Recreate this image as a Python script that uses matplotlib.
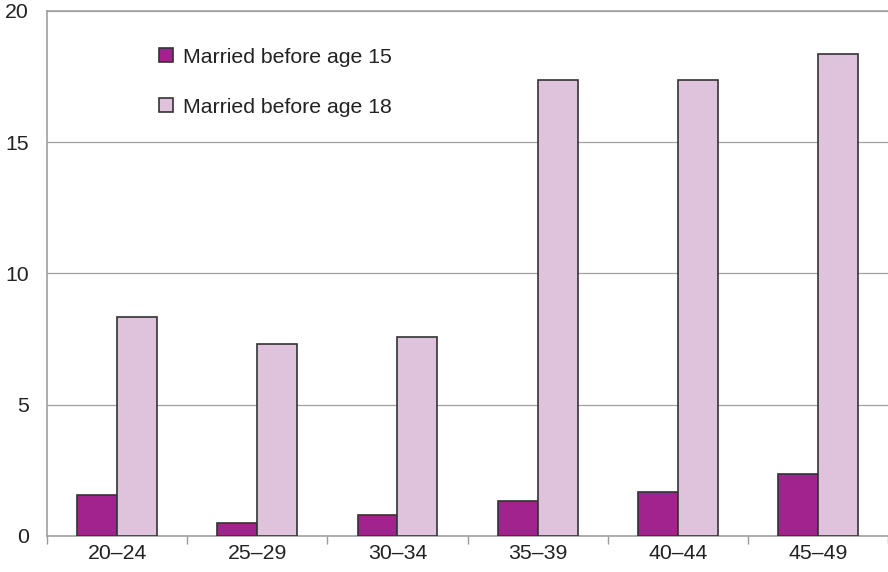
import numpy as np
import matplotlib
matplotlib.use("Agg")
import matplotlib.pyplot as plt
from matplotlib.ticker import FixedLocator

plt.rcParams['font.family'] = ['Liberation Sans', 'DejaVu Sans']

age_groups = ['20\u201324', '25\u201329', '30\u201334', '35\u201339', '40\u201344', '45\u201349']
before_15 = [1.56, 0.5, 0.8, 1.33, 1.68, 2.36]
before_18 = [8.34, 7.31, 7.58, 17.37, 17.37, 18.36]

fig = plt.figure(figsize=(8.88, 5.72), dpi=100)
ax = fig.add_axes([0.053, 0.063, 0.947, 0.918])

x = np.arange(len(age_groups))
w = 0.285
ax.bar(x - w / 2, before_15, w, color='#A2238D', edgecolor='#333333', linewidth=1.2,
       label='Married before age 15', zorder=3)
ax.bar(x + w / 2, before_18, w, color='#DFC2DC', edgecolor='#333333', linewidth=1.2,
       label='Married before age 18', zorder=3)

ax.set_xlim(-0.5, len(age_groups) - 0.5)
ax.set_ylim(0, 20)
ax.set_yticks([0, 5, 10, 15, 20])
ax.yaxis.grid(True, color='#a0a0a0', linewidth=0.9, zorder=0)
ax.set_xticks(x)
ax.set_xticklabels(age_groups)
ax.xaxis.set_minor_locator(FixedLocator(np.arange(-0.5, len(age_groups) - 0.4, 1)))
ax.tick_params(axis='x', which='major', length=0, pad=6, labelsize=15.3, labelcolor='#222222')
ax.tick_params(axis='x', which='minor', length=6, width=1, color='#999999', direction='out')
ax.tick_params(axis='y', length=0, pad=13, labelsize=15.3, labelcolor='#222222')

for side in ['left', 'top', 'bottom']:
    ax.spines[side].set_color('#a0a0a0')
    ax.spines[side].set_linewidth(1.2)
ax.spines['right'].set_visible(False)

leg = ax.legend(loc='upper left', bbox_to_anchor=(0.11, 0.966), frameon=False,
                fontsize=15.3, labelspacing=1.45, handlelength=0.65, handleheight=0.65,
                handletextpad=0.5)
for t in leg.get_texts():
    t.set_color('#222222')

fig.savefig('out.png', dpi=100)
